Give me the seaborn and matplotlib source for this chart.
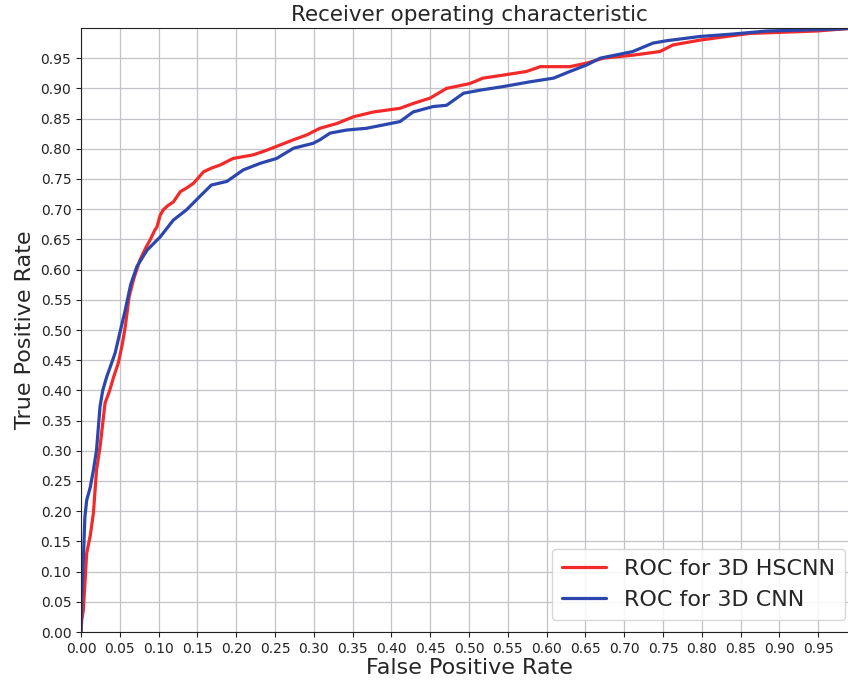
import numpy as np
import pandas as pd
import matplotlib
matplotlib.use("Agg")
import matplotlib.pyplot as plt
import seaborn as sns

# ROC for 3D HSCNN
fpr_hscnn = [0.0, 0.001, 0.003, 0.0073, 0.012, 0.016, 0.020, 0.0245, 0.031, 0.037,
             0.042, 0.048, 0.053, 0.057, 0.062, 0.068, 0.076, 0.083, 0.089, 0.095,
             0.098, 0.102, 0.106, 0.112, 0.119, 0.128, 0.136, 0.145, 0.158, 0.168,
             0.179, 0.196, 0.222, 0.238, 0.252, 0.274, 0.291, 0.308, 0.330, 0.351,
             0.377, 0.411, 0.428, 0.450, 0.471, 0.501, 0.518, 0.544, 0.574, 0.592,
             0.630, 0.652, 0.673, 0.711, 0.746, 0.763, 0.798, 0.832, 0.862, 0.948,
             0.978, 1.0]
tpr_hscnn = [0.0, 0.020, 0.036, 0.130, 0.160, 0.197, 0.268, 0.306, 0.379, 0.400,
             0.422, 0.445, 0.475, 0.505, 0.555, 0.585, 0.616, 0.635, 0.649, 0.665,
             0.671, 0.690, 0.699, 0.706, 0.712, 0.729, 0.735, 0.743, 0.762, 0.768,
             0.773, 0.784, 0.790, 0.797, 0.804, 0.815, 0.823, 0.834, 0.842, 0.853,
             0.861, 0.867, 0.875, 0.884, 0.900, 0.908, 0.917, 0.922, 0.928, 0.936,
             0.936, 0.942, 0.950, 0.955, 0.961, 0.972, 0.980, 0.986, 0.991, 0.995,
             0.998, 1.0]

# ROC for 3D CNN
fpr_cnn = [0.0, 0.001, 0.003, 0.005, 0.0073, 0.012, 0.016, 0.020, 0.0245, 0.028,
           0.033, 0.038, 0.044, 0.050, 0.057, 0.064, 0.072, 0.085, 0.102, 0.119,
           0.136, 0.153, 0.168, 0.188, 0.209, 0.231, 0.252, 0.274, 0.299, 0.308,
           0.321, 0.342, 0.368, 0.411, 0.428, 0.454, 0.471, 0.493, 0.514, 0.544,
           0.579, 0.609, 0.630, 0.652, 0.669, 0.711, 0.737, 0.755, 0.798, 0.840,
           0.884, 0.969, 1.0]
tpr_cnn = [0.0, 0.060, 0.119, 0.190, 0.218, 0.240, 0.268, 0.301, 0.373, 0.400,
           0.422, 0.440, 0.462, 0.495, 0.533, 0.575, 0.605, 0.632, 0.654, 0.682,
           0.699, 0.721, 0.740, 0.746, 0.765, 0.776, 0.784, 0.801, 0.809, 0.815,
           0.826, 0.831, 0.834, 0.845, 0.861, 0.870, 0.872, 0.892, 0.897, 0.903,
           0.911, 0.917, 0.928, 0.939, 0.950, 0.961, 0.975, 0.979, 0.986, 0.990,
           0.995, 0.998, 1.0]

labels = ["ROC for 3D HSCNN", "ROC for 3D CNN"]
tick_vals = [round(0.05 * i, 2) for i in range(20)]
tick_labels = [f"{v:.2f}" for v in tick_vals]

df = pd.concat([
    pd.DataFrame({"fpr": fpr_hscnn, "tpr": tpr_hscnn, "model": labels[0]}),
    pd.DataFrame({"fpr": fpr_cnn, "tpr": tpr_cnn, "model": labels[1]}),
], ignore_index=True)

sns.set_style("ticks")
plt.rcParams["font.family"] = ["DejaVu Sans"]

fig = plt.figure(figsize=(8.48, 6.82), dpi=100)
ax = fig.add_axes([81 / 848, 1 - 632 / 682, 776 / 848, 604 / 682])

sns.lineplot(data=df, x="fpr", y="tpr", hue="model", sort=False, estimator=None,
             palette={labels[0]: "#f22a2a", labels[1]: "#2b46ad"},
             linewidth=2.3, ax=ax)

ax.set_xlim(0, 1)
ax.set_ylim(0, 1)
ax.set_xticks(tick_vals)
ax.set_xticklabels(tick_labels, fontsize=10)
ax.set_yticks(tick_vals)
ax.set_yticklabels(tick_labels, fontsize=10)
ax.tick_params(direction="out", length=3.5, width=0.8, colors="#222222")
ax.grid(True, color="#c0c4c8", linewidth=0.9)
ax.set_axisbelow(True)
for s in ax.spines.values():
    s.set_color("#222222")
    s.set_visible(True)

ax.set_xlabel("False Positive Rate", fontsize=16, labelpad=2)
ax.set_ylabel("True Positive Rate", fontsize=16, labelpad=4)
ax.set_title("Receiver operating characteristic", fontsize=15.5, pad=5)

leg = ax.legend(loc="lower right", bbox_to_anchor=(845 / 848, 62 / 682),
                bbox_transform=fig.transFigure, borderaxespad=0,
                fontsize=16, frameon=True, title=None, borderpad=0.45)
leg.get_frame().set_edgecolor("#d0d0d0")
leg.get_frame().set_alpha(0.85)

fig.savefig("out.png", dpi=100)
